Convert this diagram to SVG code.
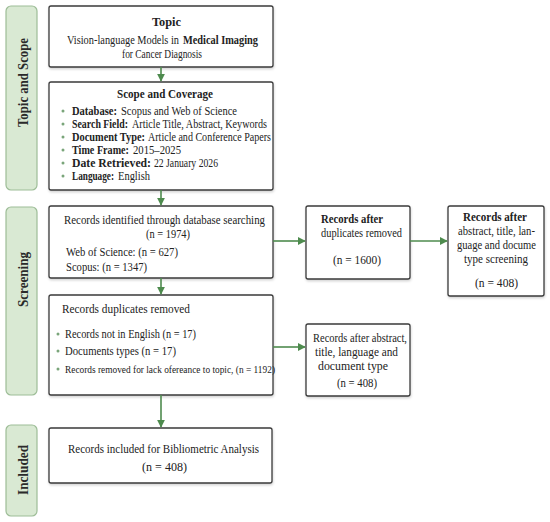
<svg xmlns="http://www.w3.org/2000/svg" width="550" height="522" viewBox="0 0 550 522">
<defs>
<marker id="ah" viewBox="0 0 10 10" refX="9" refY="5" markerWidth="8" markerHeight="8" markerUnits="userSpaceOnUse" orient="auto">
<path d="M0,0 L10,5 L0,10 z" fill="#4e8b4e"/>
</marker>
<filter id="sh" x="-5%" y="-5%" width="110%" height="115%">
<feDropShadow dx="0.5" dy="1.5" stdDeviation="1.2" flood-color="#000" flood-opacity="0.18"/>
</filter>
</defs>
<style>
text{font-family:"Liberation Serif","DejaVu Serif",serif;fill:#222;font-size:12.5px}
.b{font-weight:bold}
.box{fill:#fff;stroke:#3a3a3a;stroke-width:1.3;filter:url(#sh)}
.bar{fill:#d9e9d3;stroke:#9dbd97;stroke-width:1.2}
.lab{font-weight:bold;font-size:14px;fill:#2a2a2a}
.bul{fill:#7aa57a}
.m{font-size:11.6px}
.con line{stroke:#4e8b4e;stroke-width:1.6;marker-end:url(#ah)}
</style>
<rect width="550" height="522" fill="#fff"/>

<g id="bar-topic"><rect class="bar" x="6" y="6" width="31" height="184" rx="5"/><text class="lab" transform="translate(28,127) rotate(-90)" textLength="89" lengthAdjust="spacingAndGlyphs">Topic and Scope</text></g>
<g id="bar-screening"><rect class="bar" x="6" y="207" width="31" height="188" rx="5"/><text class="lab" transform="translate(28,307) rotate(-90)" textLength="55" lengthAdjust="spacingAndGlyphs">Screening</text></g>
<g id="bar-included"><rect class="bar" x="6" y="425" width="31" height="91" rx="5"/><text class="lab" transform="translate(28,495) rotate(-90)" textLength="50" lengthAdjust="spacingAndGlyphs">Included</text></g>

<g id="topic"><rect class="box" x="49" y="6" width="224" height="61" rx="2"/>
<text class="b" x="152" y="26" style="font-size:13px" textLength="29" lengthAdjust="spacingAndGlyphs">Topic</text>
<text x="67" y="44" textLength="112" lengthAdjust="spacingAndGlyphs">Vision-language Models in</text>
<text class="b" x="183" y="44" textLength="75" lengthAdjust="spacingAndGlyphs">Medical Imaging</text>
<text x="122" y="58" textLength="80" lengthAdjust="spacingAndGlyphs">for Cancer Diagnosis</text></g>

<g id="scope"><rect class="box" x="49" y="82" width="224" height="108" rx="2"/>
<text class="b" x="117" y="98" style="font-size:13.5px" textLength="96" lengthAdjust="spacingAndGlyphs">Scope and Coverage</text>
<circle class="bul" cx="63" cy="111" r="1.5"/>
<text class="m b" x="72" y="115" textLength="45" lengthAdjust="spacingAndGlyphs">Database:</text>
<text class="m" x="121" y="115" textLength="116" lengthAdjust="spacingAndGlyphs">Scopus and Web of Science</text>
<circle class="bul" cx="63" cy="124" r="1.5"/>
<text class="m b" x="72" y="128" textLength="56" lengthAdjust="spacingAndGlyphs">Search Field:</text>
<text class="m" x="132" y="128" textLength="135" lengthAdjust="spacingAndGlyphs">Article Title, Abstract, Keywords</text>
<circle class="bul" cx="63" cy="137" r="1.5"/>
<text class="m b" x="72" y="141" textLength="73" lengthAdjust="spacingAndGlyphs">Document Type:</text>
<text class="m" x="148" y="141" textLength="123" lengthAdjust="spacingAndGlyphs">Article and Conference Papers</text>
<circle class="bul" cx="63" cy="150" r="1.5"/>
<text class="m b" x="72" y="154" textLength="57" lengthAdjust="spacingAndGlyphs">Time Frame:</text>
<text class="m" x="133" y="154" textLength="48" lengthAdjust="spacingAndGlyphs">2015–2025</text>
<circle class="bul" cx="63" cy="163" r="1.5"/>
<text class="m b" x="72" y="167" textLength="79" lengthAdjust="spacingAndGlyphs">Date Retrieved:</text>
<text class="m" x="154" y="167" textLength="64" lengthAdjust="spacingAndGlyphs">22 January 2026</text>
<circle class="bul" cx="63" cy="176" r="1.5"/>
<text class="m b" x="72" y="180" textLength="42" lengthAdjust="spacingAndGlyphs">Language:</text>
<text class="m" x="118" y="180" textLength="32" lengthAdjust="spacingAndGlyphs">English</text></g>

<g id="identified"><rect class="box" x="49" y="206" width="224" height="72" rx="2"/>
<text x="64" y="224" textLength="201" lengthAdjust="spacingAndGlyphs">Records identified through database searching</text>
<text x="146" y="238" textLength="44" lengthAdjust="spacingAndGlyphs">(n = 1974)</text>
<text x="66" y="256" textLength="112" lengthAdjust="spacingAndGlyphs">Web of Science: (n = 627)</text>
<text x="66" y="271" textLength="81" lengthAdjust="spacingAndGlyphs">Scopus: (n = 1347)</text></g>

<g id="dup-removed"><rect class="box" x="49" y="295" width="224" height="100" rx="2"/>
<text x="62" y="313" textLength="128" lengthAdjust="spacingAndGlyphs">Records duplicates removed</text>
<circle class="bul" cx="58" cy="334" r="1.5"/><text x="65" y="338" textLength="131" lengthAdjust="spacingAndGlyphs">Records not in English (n = 17)</text>
<circle class="bul" cx="58" cy="351" r="1.5"/><text x="65" y="355" textLength="111" lengthAdjust="spacingAndGlyphs">Documents types (n = 17)</text>
<circle class="bul" cx="58" cy="369" r="1.5"/><text x="65" y="373" style="font-size:11px" textLength="210" lengthAdjust="spacingAndGlyphs">Records removed for lack ofereance to topic, (n = 1192)</text></g>

<g id="after-dup"><rect class="box" x="306" y="206" width="104" height="73" rx="2"/>
<text class="b" x="321" y="223" textLength="62" lengthAdjust="spacingAndGlyphs">Records after</text>
<text x="321" y="237" textLength="81" lengthAdjust="spacingAndGlyphs">duplicates removed</text>
<text x="333" y="264" textLength="48" lengthAdjust="spacingAndGlyphs">(n = 1600)</text></g>

<g id="after-screening"><rect class="box" x="448" y="206" width="96" height="90" rx="2"/>
<text class="b" x="463" y="221" textLength="64" lengthAdjust="spacingAndGlyphs">Records after</text>
<text x="458" y="235" textLength="77" lengthAdjust="spacingAndGlyphs">abstract, title, lan-</text>
<text x="457" y="249" textLength="79" lengthAdjust="spacingAndGlyphs">guage and docume</text>
<text x="464" y="263" textLength="64" lengthAdjust="spacingAndGlyphs">type screening</text>
<text x="475" y="287" textLength="43" lengthAdjust="spacingAndGlyphs">(n = 408)</text></g>

<g id="after-abstract"><rect class="box" x="306" y="324" width="104" height="72" rx="2"/>
<text x="313" y="342" textLength="94" lengthAdjust="spacingAndGlyphs">Records after abstract,</text>
<text x="315" y="356" textLength="83" lengthAdjust="spacingAndGlyphs">title, language and</text>
<text x="318" y="370" textLength="70" lengthAdjust="spacingAndGlyphs">document type</text>
<text x="337" y="387" textLength="40" lengthAdjust="spacingAndGlyphs">(n = 408)</text></g>

<g id="included"><rect class="box" x="49" y="428" width="223" height="55" rx="2"/>
<text x="68" y="453" textLength="191" lengthAdjust="spacingAndGlyphs">Records included for Bibliometric Analysis</text>
<text x="142" y="471" textLength="45" lengthAdjust="spacingAndGlyphs">(n = 408)</text></g>

<g id="connectors" class="con">
<line x1="161" y1="67" x2="161" y2="81"/>
<line x1="161" y1="190" x2="161" y2="205"/>
<line x1="161" y1="278" x2="161" y2="294"/>
<line x1="161" y1="395" x2="161" y2="427"/>
<line x1="273" y1="241" x2="305" y2="241"/>
<line x1="410" y1="241" x2="447" y2="241"/>
<line x1="273" y1="347" x2="305" y2="347"/>
</g>
</svg>
